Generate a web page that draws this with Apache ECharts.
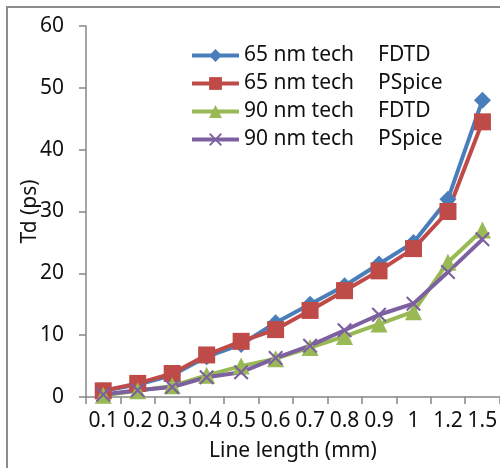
<!DOCTYPE html>
<html>
<head>
<meta charset="utf-8">
<script src="https://cdn.jsdelivr.net/npm/echarts@6/dist/echarts.min.js"></script>
<style>
  html, body { margin: 0; padding: 0; background: #fff; }
  #chart { width: 500px; height: 468px; }
</style>
</head>
<body>
<div id="chart"></div>
<script>
var lengths = ['0.1', '0.2', '0.3', '0.4', '0.5', '0.6', '0.7', '0.8', '0.9', '1', '1.2', '1.5'];
var fdtd65 = [1, 2, 3.5, 6.5, 8.5, 12, 15, 18, 21.5, 25, 32, 48];
var pspice65 = [1, 2.2, 3.8, 6.8, 9, 10.9, 14, 17.2, 20.4, 24, 30, 44.5];
var fdtd90 = [0.3, 1, 1.8, 3.5, 5, 6.2, 8, 9.8, 11.8, 13.8, 21.8, 27];
var pspice90 = [0.4, 1.1, 1.6, 3.2, 4, 6.3, 8.3, 10.8, 13.3, 15.1, 20.2, 25.5];

var font = 'Noto Sans';
var crossPath = 'path://M0,1L1,0L5,4L9,0L10,1L6,5L10,9L9,10L5,6L1,10L0,9L4,5Z';

var myChart = echarts.init(document.getElementById('chart'));

function makeSeries(name, data, color, symbol, size) {
  return {
    name: name,
    type: 'line',
    data: data,
    symbol: symbol,
    symbolSize: size,
    showSymbol: true,
    lineStyle: { width: 4, color: color },
    itemStyle: { color: color },
    emphasis: { disabled: true },
    animation: false
  };
}

var option = {
  backgroundColor: '#fff',
  graphic: [{
    type: 'rect',
    shape: { x: 7, y: 7, width: 600, height: 600 },
    style: { fill: 'none', stroke: '#8c8c8c', lineWidth: 2 },
    z: -1
  }],
  grid: { left: 86, top: 26, right: -6, bottom: 71 },
  legend: {
    orient: 'vertical',
    left: 185,
    top: 40,
    itemWidth: 47,
    itemHeight: 16,
    itemGap: 7,
    lineStyle: { width: 4 },
    textStyle: {
      fontFamily: font,
      fontSize: 21,
      color: '#111',
      rich: {
        a: { fontFamily: font, fontSize: 21, color: '#111', width: 134 },
        b: { fontFamily: font, fontSize: 21, color: '#111' }
      }
    },
    formatter: function (name) {
      var parts = name.split('|');
      return '{a|' + parts[0] + '}{b|' + parts[1] + '}';
    }
  },
  xAxis: {
    type: 'category',
    data: lengths,
    boundaryGap: true,
    name: 'Line length (mm)',
    nameLocation: 'middle',
    nameGap: 44,
    nameMoveOverlap: false,
    nameTextStyle: { fontFamily: font, fontSize: 21, color: '#111' },
    axisLine: { lineStyle: { color: '#868686', width: 1.5 } },
    axisTick: { show: true, length: 7, lineStyle: { color: '#868686', width: 1.5 } },
    axisLabel: { fontFamily: font, fontSize: 21, color: '#111', margin: 14, interval: 0 }
  },
  yAxis: {
    type: 'value',
    min: 0,
    max: 60,
    interval: 10,
    name: 'Td (ps)',
    nameLocation: 'middle',
    nameGap: 45,
    nameMoveOverlap: false,
    nameTextStyle: { fontFamily: font, fontSize: 21, color: '#111' },
    axisLine: { show: true, lineStyle: { color: '#868686', width: 1.5 } },
    axisTick: { show: true, length: 7, lineStyle: { color: '#868686', width: 1.5 } },
    splitLine: { show: false },
    axisLabel: { fontFamily: font, fontSize: 21, color: '#111', margin: 22 }
  },
  series: [
    makeSeries('65 nm tech|FDTD', fdtd65, '#4a7ebb', 'diamond', 17),
    makeSeries('65 nm tech|PSpice', pspice65, '#be4b48', 'rect', 17),
    makeSeries('90 nm tech|FDTD', fdtd90, '#98b954', 'triangle', 17),
    makeSeries('90 nm tech|PSpice', pspice90, '#7d60a0', crossPath, 15)
  ]
};

myChart.setOption(option);
</script>
</body>
</html>
